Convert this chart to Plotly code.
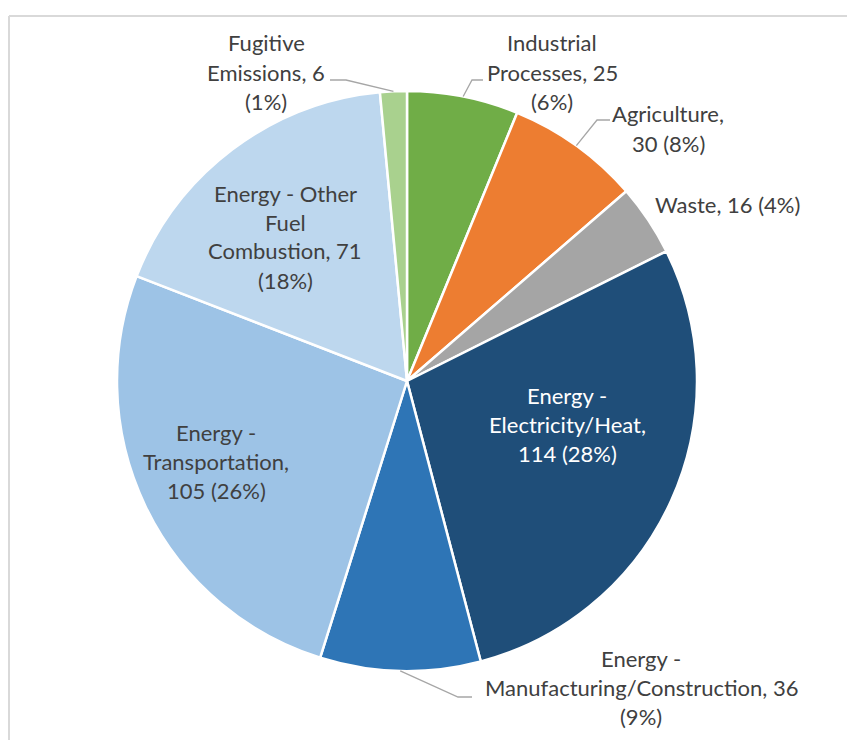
import math
import plotly.graph_objects as go

# ---- data ----
categories = [
    "Industrial Processes",
    "Agriculture",
    "Waste",
    "Energy - Electricity/Heat",
    "Energy - Manufacturing/Construction",
    "Energy - Transportation",
    "Energy - Other Fuel Combustion",
    "Fugitive Emissions",
]
values = [25, 30, 16, 114, 36, 105, 71, 6]
percents = [6, 8, 4, 28, 9, 26, 18, 1]
colors = ["#70AD47", "#ED7D31", "#A5A5A5", "#1F4E79",
          "#2E75B6", "#9DC3E6", "#BDD7EE", "#A9D18E"]

# label line templates ({v}=value, {p}=percent)
label_lines = [
    ["Industrial", "Processes, {v}", "({p}%)"],
    ["Agriculture,", "{v} ({p}%)"],
    ["Waste, {v} ({p}%)"],
    ["Energy -", "Electricity/Heat,", "{v} ({p}%)"],
    ["Energy -", "Manufacturing/Construction, {v}", "({p}%)"],
    ["Energy -", "Transportation,", "{v} ({p}%)"],
    ["Energy - Other", "Fuel", "Combustion, {v}", "({p}%)"],
    ["Fugitive", "Emissions, {v}", "({p}%)"],
]

# ---- layout (pixels) ----
W, H = 847, 740
CX, CY, R = 407, 381, 290
LINE_H = 29
FONT = "Lato"
TXT = "#404040"
# label placement: (center x, first-line center y, color)
label_pos = [
    (552, 43, TXT),
    (668, 114, TXT),
    (727, 205, TXT),
    (567, 395, "white"),
    (641, 658, TXT),
    (216, 432, TXT),
    (285, 193, TXT),
    (266, 43, TXT),
]
# leader lines: index -> list of (x, y) after the slice-edge point
leaders = {
    7: [(346, 80), (330, 80)],
    0: [(472, 80), (483, 80)],
    1: [(597, 120), (610, 120)],
    4: [(458, 697), (472, 697)],
}


def px(x):
    return x / W


def py(y):
    return 1 - y / H


fig = go.Figure(go.Pie(
    labels=categories,
    values=values,
    sort=False,
    direction="clockwise",
    rotation=0,
    marker=dict(colors=colors, line=dict(color="white", width=2.5)),
    textinfo="none",
    hoverinfo="label+value+percent",
    showlegend=False,
    domain=dict(x=[px(CX - R), px(CX + R)], y=[py(CY + R), py(CY - R)]),
))

annotations = []
for i, lines in enumerate(label_lines):
    cx, y0, col = label_pos[i]
    for k, t in enumerate(lines):
        annotations.append(dict(
            x=px(cx), y=py(y0 + k * LINE_H), xref="paper", yref="paper",
            text=t.format(v=values[i], p=percents[i]),
            showarrow=False, xanchor="center", yanchor="middle",
            font=dict(family=FONT, size=22, color=col),
        ))

# leader lines computed from slice mid-angles
total = sum(values)
cum = 0
shapes = []
for i, v in enumerate(values):
    mid = (cum + v / 2) / total * 2 * math.pi
    cum += v
    if i in leaders:
        sx = CX + R * math.sin(mid)
        sy = CY - R * math.cos(mid)
        pts = [(sx, sy)] + leaders[i]
        path = "M " + " L ".join(f"{px(x)} {py(y)}" for x, y in pts)
        shapes.append(dict(type="path", path=path, xref="paper", yref="paper",
                           line=dict(color="#A6A6A6", width=1.3)))

# chart border (left and top edges visible)
shapes.append(dict(type="line", xref="paper", yref="paper",
                   x0=px(9), x1=px(9), y0=0, y1=py(16),
                   line=dict(color="#D9D9D9", width=2)))
shapes.append(dict(type="line", xref="paper", yref="paper",
                   x0=px(9), x1=1, y0=py(16), y1=py(16),
                   line=dict(color="#D9D9D9", width=2)))

fig.update_layout(
    width=W, height=H,
    margin=dict(l=0, r=0, t=0, b=0),
    paper_bgcolor="white", plot_bgcolor="white",
    annotations=annotations, shapes=shapes,
)

fig.write_html(
    "out.html",
    config={"displayModeBar": False},
    post_script="document.body.style.margin='0';document.body.style.overflow='hidden';",
)
